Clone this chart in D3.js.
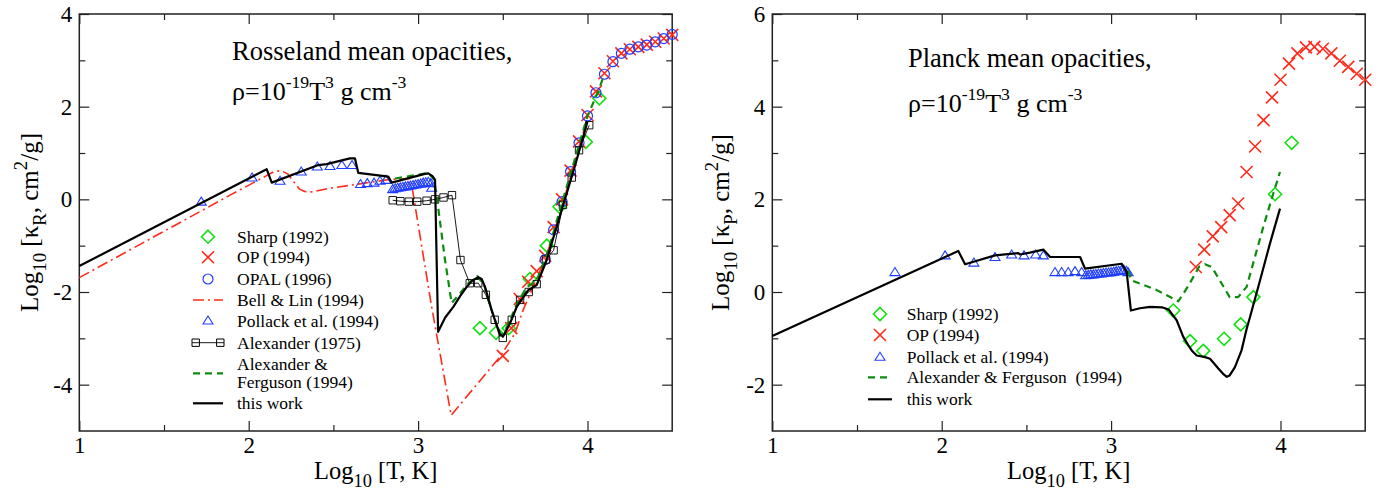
<!DOCTYPE html>
<html><head><meta charset="utf-8">
<script src="https://cdn.jsdelivr.net/npm/d3@7"></script>
<style>body{margin:0;background:#fff}svg{display:block}svg text{font-family:"Liberation Serif","Times New Roman",Times,serif}</style>
</head><body><svg id="c" width="1381" height="490"></svg>
<script>
const SERIF = '"Liberation Serif","Times New Roman",Times,serif';

// ---------- tick values ----------
const xMajorTicks = [1, 2, 3, 4];
const xMinorTicks = [1.5, 2.5, 3.5];
const rossYMajor = [-4, -2, 0, 2, 4];
const rossYMinor = [-3, -1, 1, 3];
const planckYMajor = [-2, 0, 2, 4, 6];
const planckYMinor = [-1, 1, 3, 5];

// ---------- Rosseland (left panel) : [log10 T, log10 kappa_R] ----------
const rossSharp = [[3.365,-2.78],[3.46,-2.88],[3.535,-2.78],[3.66,-1.72],[3.76,-1.0],[3.835,-0.16],[3.99,1.24],[4.07,2.18]];
const rossOP = [[3.50,-3.38],[3.55,-2.78],[3.60,-2.15],[3.65,-1.78],[3.70,-1.55],[3.75,-1.22],[3.80,-0.6],[3.85,0.0],[3.90,0.62],[3.95,1.25],[4.00,1.82],[4.05,2.33],[4.10,2.72],[4.15,2.98],[4.20,3.15],[4.25,3.24],[4.30,3.29],[4.35,3.34],[4.40,3.40],[4.45,3.47],[4.50,3.55]];
const rossOPAL = [[3.75,-1.30],[3.80,-0.66],[3.85,-0.05],[3.90,0.60],[3.95,1.22],[4.00,1.80],[4.05,2.30],[4.10,2.70],[4.15,2.97],[4.20,3.15],[4.25,3.24],[4.30,3.29],[4.35,3.33],[4.40,3.40],[4.45,3.47],[4.50,3.56]];
const rossBellLin = [[1.0,-1.69],[1.89,0.09],[2.10,0.50],[2.15,0.60],[2.19,0.62],[2.23,0.55],[2.27,0.36],[2.30,0.22],[2.33,0.17],[2.37,0.16],[2.48,0.24],[2.677,0.345],[2.834,0.43],[2.955,0.45],[2.965,0.25],[3.08,-2.32],[3.195,-4.66],[3.483,-3.40],[3.572,-2.89],[3.62,-2.39],[3.739,-1.38],[3.818,-0.59],[3.90,0.5],[4.0,1.75]];
const rossPollack = [[1.72,-0.05],[2.02,0.47],[2.185,0.40],[2.31,0.60],[2.405,0.71],[2.48,0.72],[2.55,0.74],[2.61,0.74],[2.66,0.33],[2.70,0.35],[2.74,0.36],[2.775,0.40],[2.81,0.42],[2.85,0.22],[2.865,0.24],[2.88,0.25],[2.895,0.26],[2.91,0.27],[2.925,0.28],[2.94,0.29],[2.955,0.30],[2.97,0.31],[2.985,0.32],[3.0,0.33],[3.015,0.34],[3.03,0.36],[3.045,0.37],[3.06,0.38],[3.075,0.35],[3.08,0.25]];
const rossAlex75 = [[2.85,-0.02],[2.895,-0.04],[2.945,-0.05],[2.995,-0.05],[3.05,-0.03],[3.10,0.0],[3.15,0.04],[3.20,0.09],[3.25,-1.31],[3.305,-1.81],[3.355,-1.81],[3.40,-2.06],[3.452,-2.6],[3.50,-2.99],[3.553,-2.6],[3.602,-2.17],[3.653,-2.0],[3.70,-1.83],[3.755,-1.3],[3.80,-1.1],[3.855,-0.12],[3.907,0.47],[3.95,1.06],[4.01,1.6]];
const rossAlexFerg = [[2.864,0.45],[2.95,0.5],[3.06,0.57],[3.09,0.45],[3.11,0.06],[3.159,-1.31],[3.198,-2.24],[3.24,-2.06],[3.30,-1.80],[3.35,-1.66],[3.39,-1.85],[3.43,-2.35],[3.48,-2.88],[3.50,-2.92],[3.54,-2.64],[3.58,-2.28],[3.64,-1.9],[3.70,-1.75],[3.76,-1.2],[3.82,-0.45],[3.88,0.3],[3.94,1.05],[4.0,1.8],[4.06,2.3],[4.09,2.6]];
const rossThisWork = [[1.0,-1.44],[2.106,0.65],[2.136,0.36],[2.411,0.74],[2.46,0.76],[2.598,0.885],[2.627,0.885],[2.647,0.57],[2.824,0.49],[2.844,0.36],[3.04,0.55],[3.06,0.56],[3.085,0.5],[3.1,0.42],[3.118,-2.86],[3.16,-2.55],[3.208,-2.32],[3.25,-2.08],[3.287,-1.89],[3.32,-1.75],[3.355,-1.68],[3.375,-1.72],[3.395,-1.89],[3.434,-2.39],[3.483,-2.93],[3.503,-2.95],[3.542,-2.68],[3.582,-2.32],[3.65,-1.96],[3.70,-1.85],[3.759,-1.31],[3.818,-0.59],[3.877,0.13],[3.936,0.85],[4.0,1.68]];

// ---------- Planck (right panel) : [log10 T, log10 kappa_P] ----------
const planckSharp = [[3.367,-0.40],[3.466,-1.06],[3.544,-1.27],[3.667,-1.01],[3.765,-0.70],[3.84,-0.11],[3.968,2.11],[4.066,3.22]];
const planckOP = [[3.50,0.54],[3.55,0.915],[3.60,1.20],[3.65,1.40],[3.70,1.66],[3.75,1.91],[3.80,2.59],[3.85,3.14],[3.90,3.71],[3.95,4.20],[4.00,4.58],[4.05,4.93],[4.10,5.15],[4.15,5.28],[4.20,5.29],[4.25,5.25],[4.30,5.15],[4.35,4.99],[4.40,4.86],[4.45,4.71],[4.50,4.58]];
const planckPollack = [[1.724,0.43],[2.02,0.79],[2.19,0.635],[2.315,0.755],[2.413,0.81],[2.486,0.79],[2.555,0.81],[2.6,0.79],[2.669,0.43],[2.708,0.43],[2.747,0.43],[2.787,0.45],[2.826,0.43],[2.85,0.36],[2.865,0.37],[2.88,0.38],[2.895,0.38],[2.91,0.39],[2.925,0.40],[2.94,0.40],[2.955,0.41],[2.97,0.42],[2.985,0.42],[3.0,0.43],[3.015,0.44],[3.03,0.45],[3.045,0.46],[3.06,0.47],[3.075,0.48],[3.09,0.46],[3.10,0.43]];
const planckAlexFerg = [[3.10,0.46],[3.121,0.25],[3.27,0.04],[3.397,-0.2],[3.45,0.1],[3.485,0.32],[3.52,0.55],[3.554,0.60],[3.594,0.54],[3.65,0.2],[3.70,-0.11],[3.75,-0.11],[3.80,0.11],[3.898,1.40],[3.957,2.12],[3.997,2.59]];
const planckThisWork = [[1.0,-0.95],[2.098,0.885],[2.138,0.60],[2.315,0.79],[2.452,0.84],[2.462,0.81],[2.52,0.85],[2.6,0.915],[2.64,0.755],[2.817,0.755],[2.846,0.505],[3.063,0.61],[3.092,0.43],[3.117,-0.40],[3.17,-0.35],[3.23,-0.32],[3.30,-0.33],[3.34,-0.38],[3.387,-0.61],[3.426,-0.97],[3.456,-1.15],[3.48,-1.28],[3.505,-1.37],[3.55,-1.40],[3.584,-1.44],[3.633,-1.65],[3.665,-1.78],[3.683,-1.83],[3.70,-1.80],[3.731,-1.62],[3.77,-1.26],[3.80,-0.8],[3.82,-0.54],[3.879,0.25],[3.938,1.05],[3.997,1.80]];

// ---------- styles ----------
const RED = '#ff2a1a', GREEN = '#11e011', DKGREEN = '#0c8c0c', BLUE = '#1f3dff';
const sym = {
  diamond: 'M0,-6.5L6.5,0L0,6.5L-6.5,0Z',
  cross: 'M-6,-6L6,6M-6,6L6,-6',
  circle: 'M5,0A5,5 0 1,1 -5,0A5,5 0 1,1 5,0Z',
  triangle: 'M0,-4.5L5,3.5L-5,3.5Z',
  square: 'M-3.7,-3.7H3.7V3.7H-3.7Z'
};
const styles = {
  sharp: {type:'marker', sym:'diamond', color:GREEN, sw:1.6},
  op: {type:'marker', sym:'cross', color:RED, sw:1.6},
  opal: {type:'marker', sym:'circle', color:BLUE, sw:1.2},
  bell: {type:'line', color:RED, sw:1.6, dash:'11,4,2,4'},
  pollack: {type:'marker', sym:'triangle', color:BLUE, sw:1.1},
  alex75: {type:'linemarker', sym:'square', color:'#000', sw:0.9},
  af: {type:'line', color:DKGREEN, sw:2.2, dash:'7,5'},
  tw: {type:'line', color:'#000', sw:2.2}
};

const svg = d3.select('#c');

function rich(sel, parts, base, subScale=0.72) {
  let cur = 0;
  parts.forEach(([t, k]) => {
    const off = k === 'sub' ? 0.32 * base : k === 'sup' ? -0.45 * base : 0;
    const ts = sel.append('tspan').text(t).attr('dy', off - cur);
    if (k !== 'n') ts.attr('font-size', base * subScale);
    cur = off;
  });
}

function drawPanel(p) {
  const x = d3.scaleLinear().domain([1, 4.5]).range([p.x0, p.x1]);
  const y = d3.scaleLinear().domain(p.yDom).range([p.y1, p.y0]);
  const g = svg.append('g');
  const fmt = d => String(d);
  const addAxis = (axis, tr) => {
    const a = g.append('g').attr('transform', tr).call(axis);
    a.select('.domain').remove();
    a.attr('font-family', SERIF).attr('font-size', 23);
    a.selectAll('line').attr('stroke', '#222').attr('stroke-width', 1.2);
    return a;
  };
  addAxis(d3.axisBottom(x).tickValues(xMajorTicks).tickSize(-10).tickPadding(6).tickFormat(fmt), `translate(0,${p.y1})`);
  addAxis(d3.axisBottom(x).tickValues(xMinorTicks).tickSize(-6).tickFormat(''), `translate(0,${p.y1})`);
  addAxis(d3.axisTop(x).tickValues(xMajorTicks).tickSize(-10).tickFormat(''), `translate(0,${p.y0})`);
  addAxis(d3.axisTop(x).tickValues(xMinorTicks).tickSize(-6).tickFormat(''), `translate(0,${p.y0})`);
  addAxis(d3.axisLeft(y).tickValues(p.yMajor).tickSize(-10).tickPadding(7).tickFormat(fmt), `translate(${p.x0},0)`);
  addAxis(d3.axisLeft(y).tickValues(p.yMinor).tickSize(-6).tickFormat(''), `translate(${p.x0},0)`);
  addAxis(d3.axisRight(y).tickValues(p.yMajor).tickSize(-10).tickFormat(''), `translate(${p.x1},0)`);
  addAxis(d3.axisRight(y).tickValues(p.yMinor).tickSize(-6).tickFormat(''), `translate(${p.x1},0)`);
  g.append('rect').attr('x', p.x0).attr('y', p.y0).attr('width', p.x1 - p.x0).attr('height', p.y1 - p.y0)
    .attr('fill', 'none').attr('stroke', '#222').attr('stroke-width', 1.5);

  const line = d3.line().x(d => x(d[0])).y(d => y(d[1]));
  p.series.forEach(s => {
    const st = styles[s.style];
    if (st.type === 'line' || st.type === 'linemarker') {
      g.append('path').attr('d', line(s.data)).attr('fill', 'none').attr('stroke', st.color)
        .attr('stroke-width', st.sw).attr('stroke-dasharray', st.dash || null).attr('stroke-linejoin', 'round');
    }
    if (st.type === 'marker' || st.type === 'linemarker') {
      g.append('g').selectAll('path').data(s.data).join('path')
        .attr('transform', d => `translate(${x(d[0])},${y(d[1])})`)
        .attr('d', sym[st.sym]).attr('fill', 'none').attr('stroke', st.color).attr('stroke-width', st.sw);
    }
  });

  // annotation
  g.append('text').attr('x', p.ann.x).attr('y', p.ann.y1).attr('font-family', SERIF).attr('font-size', 26.5).text(p.ann.title);
  const a2 = g.append('text').attr('x', p.ann.x).attr('y', p.ann.y2).attr('font-family', SERIF).attr('font-size', 26);
  rich(a2, [['ρ=10','n'],['-19','sup'],['T','n'],['3','sup'],[' g cm','n'],['-3','sup']], 26, 0.68);

  // axis titles
  const xt = g.append('text').attr('x', (p.x0 + p.x1) / 2).attr('y', 479).attr('text-anchor', 'middle')
    .attr('font-family', SERIF).attr('font-size', 24.5);
  rich(xt, [['Log','n'],['10','sub'],[' [T, K]','n']], 24.5, 0.75);
  const yt = g.append('text').attr('transform', `translate(${p.ylabX},${(p.y0 + p.y1) / 2}) rotate(-90)`)
    .attr('text-anchor', 'middle').attr('font-family', SERIF).attr('font-size', 25);
  rich(yt, [['Log','n'],['10','sub'],[' [κ','n'],[p.kSub,'sub'],[', cm','n'],['2','sup'],['/g]','n']], 25, 0.75);

  // legend
  const lg = g.append('g').attr('font-family', SERIF).attr('font-size', 17.5);
  p.legend.forEach(r => {
    const st = styles[r.style];
    const cx = p.leg.sx;
    if (st.type === 'marker') {
      lg.append('path').attr('transform', `translate(${cx},${r.y})`).attr('d', sym[st.sym])
        .attr('fill', 'none').attr('stroke', st.color).attr('stroke-width', st.sw);
    } else {
      const hx = r.style === 'alex75' ? 16 : p.leg.hw;
      lg.append('line').attr('x1', cx - hx).attr('x2', cx + hx).attr('y1', r.y).attr('y2', r.y)
        .attr('stroke', st.color).attr('stroke-width', st.sw).attr('stroke-dasharray', st.dash || null);
      if (st.type === 'linemarker') {
        [cx - hx + 3.7, cx + hx - 3.7].forEach(px => lg.append('path').attr('transform', `translate(${px},${r.y})`)
          .attr('d', sym[st.sym]).attr('fill', 'none').attr('stroke', st.color).attr('stroke-width', 1));
      }
    }
    r.lines.forEach((t, i) => {
      lg.append('text').attr('x', p.leg.tx).attr('y', r.ty + i * 18).style('white-space', 'pre').text(t);
    });
  });
}

drawPanel({
  x0: 79.3, x1: 672.2, y0: 14, y1: 431, yDom: [-5, 4], yMajor: rossYMajor, yMinor: rossYMinor,
  ylabX: 38, kSub: 'R',
  ann: {x: 232, y1: 60, y2: 100, title: 'Rosseland mean opacities,'},
  series: [
    {style: 'sharp', data: rossSharp}, {style: 'op', data: rossOP}, {style: 'opal', data: rossOPAL},
    {style: 'bell', data: rossBellLin}, {style: 'pollack', data: rossPollack}, {style: 'alex75', data: rossAlex75},
    {style: 'af', data: rossAlexFerg}, {style: 'tw', data: rossThisWork}
  ],
  leg: {sx: 208, tx: 237, hw: 15},
  legend: [
    {style: 'sharp', y: 236.7, ty: 242.5, lines: ['Sharp (1992)']},
    {style: 'op', y: 257.3, ty: 263, lines: ['OP (1994)']},
    {style: 'opal', y: 279, ty: 284.5, lines: ['OPAL (1996)']},
    {style: 'bell', y: 300, ty: 305.5, lines: ['Bell & Lin (1994)']},
    {style: 'pollack', y: 320.5, ty: 326.5, lines: ['Pollack et al. (1994)']},
    {style: 'alex75', y: 342.7, ty: 348.5, lines: ['Alexander (1975)']},
    {style: 'af', y: 373.3, ty: 369.5, lines: ['Alexander &', 'Ferguson (1994)']},
    {style: 'tw', y: 403.3, ty: 409, lines: ['this work']}
  ]
});

drawPanel({
  x0: 772.3, x1: 1365.2, y0: 14, y1: 431, yDom: [-3, 6], yMajor: planckYMajor, yMinor: planckYMinor,
  ylabX: 729, kSub: 'P',
  ann: {x: 908, y1: 67, y2: 112, title: 'Planck mean opacities,'},
  series: [
    {style: 'sharp', data: planckSharp}, {style: 'op', data: planckOP}, {style: 'pollack', data: planckPollack},
    {style: 'af', data: planckAlexFerg}, {style: 'tw', data: planckThisWork}
  ],
  leg: {sx: 880, tx: 906.7, hw: 12},
  legend: [
    {style: 'sharp', y: 314, ty: 320, lines: ['Sharp (1992)']},
    {style: 'op', y: 335, ty: 341, lines: ['OP (1994)']},
    {style: 'pollack', y: 356.7, ty: 362.5, lines: ['Pollack et al. (1994)']},
    {style: 'af', y: 377.3, ty: 383, lines: ['Alexander & Ferguson  (1994)']},
    {style: 'tw', y: 399.3, ty: 405, lines: ['this work']}
  ]
});
</script></body></html>
